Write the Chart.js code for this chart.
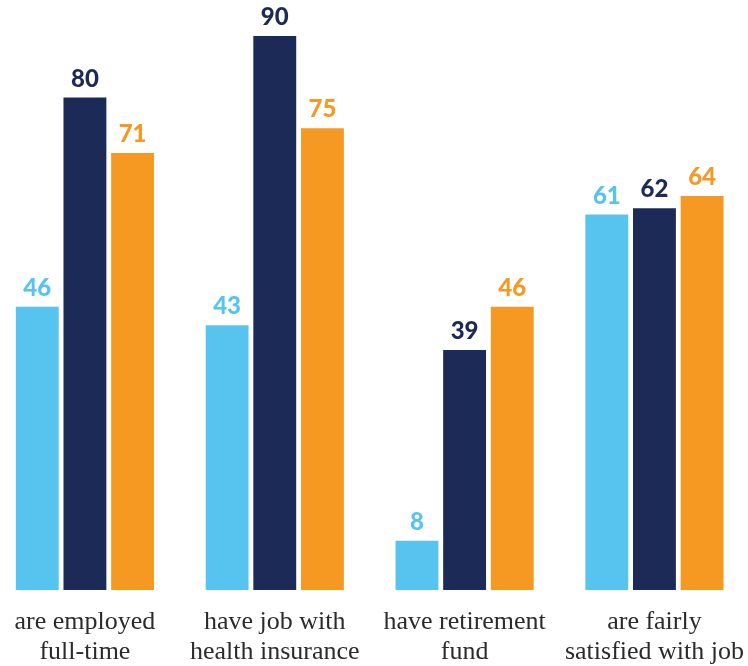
<!DOCTYPE html>
<html>
<head>
<meta charset="utf-8">
<script src="https://cdn.jsdelivr.net/npm/chart.js@4/dist/chart.umd.min.js"></script>
<style>
  html, body { margin: 0; padding: 0; background: #fff; overflow: hidden; }
  #wrap { position: absolute; left: -10px; top: 0; width: 763px; height: 666px; }
</style>
</head>
<body>
<div id="wrap"><canvas id="survey-chart"></canvas></div>
<script>
const categories = [
    ['are employed', 'full-time'],
    ['have job with', 'health insurance'],
    ['have retirement', 'fund'],
    ['are fairly', 'satisfied with job']
];
const seriesA = [46, 43, 8, 61];
const seriesB = [80, 90, 39, 62];
const seriesC = [71, 75, 46, 64];
const colors = ['#57C4EF', '#1C2A57', '#F69922'];

// numbers above each bar, same colour as the bar
const valueLabels = {
    id: 'valueLabels',
    afterDatasetsDraw(chart) {
        const ctx = chart.ctx;
        ctx.save();
        ctx.font = '900 24px Lato';
        ctx.textAlign = 'center';
        ctx.textBaseline = 'alphabetic';
        chart.data.datasets.forEach((ds, i) => {
            chart.getDatasetMeta(i).data.forEach((bar, j) => {
                ctx.fillStyle = ds.backgroundColor;
                ctx.fillText(ds.data[j], bar.x, bar.y - 11);
            });
        });
        ctx.restore();
    }
};

new Chart(document.getElementById('survey-chart'), {
    type: 'bar',
    data: {
        labels: categories,
        datasets: [
            { data: seriesA, backgroundColor: colors[0] },
            { data: seriesB, backgroundColor: colors[1] },
            { data: seriesC, backgroundColor: colors[2] }
        ]
    },
    options: {
        responsive: true,
        maintainAspectRatio: false,
        animation: false,
        layout: { padding: { top: 36, left: 0, right: 0, bottom: 0 } },
        datasets: {
            bar: { barPercentage: 0.9, categoryPercentage: 0.753 }
        },
        plugins: {
            legend: { display: false },
            tooltip: { enabled: false }
        },
        scales: {
            x: {
                grid: { display: false },
                border: { display: false },
                afterFit(scale) { scale.height = 76; },
                ticks: {
                    padding: 9,
                    color: '#2B2B2B',
                    font: { family: 'Liberation Serif', size: 26, lineHeight: 1.15 },
                    maxRotation: 0,
                    autoSkip: false
                }
            },
            y: {
                display: false,
                min: 0,
                max: 90
            }
        }
    },
    plugins: [valueLabels]
});
</script>
</body>
</html>
